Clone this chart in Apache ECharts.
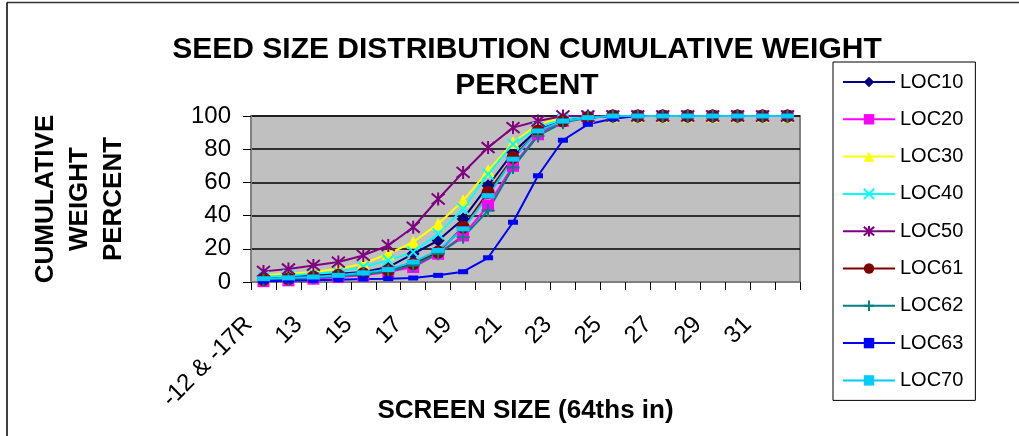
<!DOCTYPE html>
<html>
<head>
<meta charset="utf-8">
<script src="https://cdn.jsdelivr.net/npm/echarts@6/dist/echarts.min.js"></script>
<style>
  html, body { margin: 0; padding: 0; background: #fff; }
  #chart { width: 1019px; height: 436px; }
</style>
</head>
<body>
<div id="chart"></div>
<script>
// screen sizes, 64ths of an inch
var sizes = ['-12 & -17R', '12', '13', '14', '15', '16', '17', '18', '19', '20', '21',
    '22', '23', '24', '25', '26', '27', '28', '29', '30', '31', '32'];

var loc10 = [2, 3, 4, 5, 6, 9, 17, 25, 38, 58, 78, 92, 98, 100, 100, 100, 100, 100, 100, 100, 100, 100];
var loc20 = [0.5, 1, 2, 3, 4, 6, 9, 17, 28, 46, 70, 89, 97, 99, 100, 100, 100, 100, 100, 100, 100, 100];
var loc30 = [4, 5, 6, 8, 11, 17, 24, 35, 49, 67, 84, 95, 99, 100, 100, 100, 100, 100, 100, 100, 100, 100];
var loc40 = [3, 4, 5, 6, 9, 13, 18, 29, 44, 65, 83, 93, 98, 100, 100, 100, 100, 100, 100, 100, 100, 100];
var loc50 = [6.4, 7.8, 10, 12, 16, 22, 33, 50, 66, 81, 93, 97, 100, 100, 100, 100, 100, 100, 100, 100, 100, 100];
var loc61 = [1.5, 2, 3, 4, 5, 7, 11, 18, 33, 54, 75, 91, 97, 99, 100, 100, 100, 100, 100, 100, 100, 100];
var loc62 = [1, 1.5, 2.5, 3.5, 4.5, 6.5, 10, 17, 27, 43, 69, 88, 96, 99, 100, 100, 100, 100, 100, 100, 100, 100];
var loc63 = [0.5, 0.8, 1, 1.4, 1.8, 2, 2.4, 4, 6.2, 14.6, 36, 64, 85.4, 95, 98.4, 100, 100, 100, 100, 100, 100, 100];
var loc70 = [2, 2.5, 3, 4, 5.5, 7.5, 12, 19, 32, 52, 74, 91, 97, 99, 100, 100, 100, 100, 100, 100, 100, 100];

var yTicks = [0, 20, 40, 60, 80, 100];

var X_PATH = 'path://M0,0L10,10M0,10L10,0';
var STAR_PATH = 'path://M0,0L10,10M0,10L10,0M5,-1L5,11';
var PLUS_PATH = 'path://M5,0L5,10M0,5L10,5';

function makeSeries(name, data, color, symbol, size, stroke) {
    var s = {
        name: name,
        type: 'line',
        data: data,
        symbol: symbol,
        symbolSize: size,
        showAllSymbol: true,
        color: color,
        lineStyle: { color: color, width: 2 },
        itemStyle: { color: color },
        emphasis: { disabled: true },
        animation: false
    };
    if (stroke) {
        s.itemStyle = { color: color, borderColor: color, borderWidth: 2 };
    }
    return s;
}

var chart = echarts.init(document.getElementById('chart'));
var font = 'Liberation Sans, Arial, sans-serif';

var option = {
    backgroundColor: '#ffffff',
    textStyle: { fontFamily: font },
    title: {
        text: 'SEED SIZE DISTRIBUTION CUMULATIVE WEIGHT\nPERCENT',
        left: 522,
        textAlign: 'center',
        top: 27,
        textStyle: { fontSize: 30, fontWeight: 'bold', color: '#000', lineHeight: 36, fontFamily: font }
    },
    legend: {
        orient: 'vertical',
        left: 833,
        top: 62,
        padding: [10, 12, 10, 9],
        itemWidth: 52,
        itemHeight: 13,
        itemGap: 17.3,
        borderColor: '#000',
        borderWidth: 1,
        backgroundColor: '#fff',
        textStyle: { fontSize: 20, color: '#000', lineHeight: 20, fontFamily: font },
        data: ['LOC10', 'LOC20', 'LOC30', 'LOC40', 'LOC50', 'LOC61', 'LOC62', 'LOC63', 'LOC70']
    },
    grid: {
        left: 251,
        right: 219,
        top: 116,
        bottom: 154,
        outerBoundsMode: 'none',
        containLabel: false,
        show: true,
        backgroundColor: '#c0c0c0',
        borderColor: '#808080',
        borderWidth: 2
    },
    xAxis: {
        type: 'category',
        data: sizes,
        boundaryGap: true,
        name: 'SCREEN SIZE (64ths in)',
        nameLocation: 'middle',
        nameGap: 116,
        nameMoveOverlap: false,
        nameTextStyle: { fontSize: 26, fontWeight: 'bold', color: '#000', fontFamily: font },
        axisLine: { lineStyle: { color: '#808080', width: 2 } },
        axisTick: { show: true, interval: 0, length: 8, lineStyle: { color: '#000' } },
        axisLabel: { interval: 1, rotate: 45, fontSize: 24, color: '#000', margin: 24, padding: [0, 21, 0, 0], fontFamily: font },
        splitLine: { show: false }
    },
    yAxis: {
        type: 'value',
        min: yTicks[0],
        max: yTicks[yTicks.length - 1],
        interval: yTicks[1] - yTicks[0],
        name: 'CUMULATIVE\nWEIGHT\nPERCENT',
        nameLocation: 'middle',
        nameRotate: 90,
        nameGap: 120,
        nameTextStyle: { fontSize: 26, fontWeight: 'bold', color: '#000', lineHeight: 34, fontFamily: font },
        axisLine: { show: true, lineStyle: { color: '#808080', width: 2 } },
        axisTick: { show: true, length: 8, lineStyle: { color: '#000' } },
        axisLabel: { fontSize: 24, color: '#000', margin: 20, fontFamily: font },
        splitLine: { show: true, lineStyle: { color: '#000', width: 1.5 } }
    },
    graphic: [
        { type: 'line', shape: { x1: 7, y1: 2.5, x2: 1019, y2: 2.5 }, style: { stroke: '#333', lineWidth: 1.5 }, silent: true },
        { type: 'line', shape: { x1: 7, y1: 2.5, x2: 7, y2: 436 }, style: { stroke: '#000', lineWidth: 1.5 }, silent: true }
    ],
    series: [
        makeSeries('LOC10', loc10, '#000080', 'diamond', 13),
        makeSeries('LOC20', loc20, '#ff00ff', 'rect', 12),
        makeSeries('LOC30', loc30, '#ffff00', 'triangle', 13),
        makeSeries('LOC40', loc40, '#00ffff', X_PATH, 11, true),
        makeSeries('LOC50', loc50, '#800080', STAR_PATH, 13, true),
        makeSeries('LOC61', loc61, '#800000', 'circle', 13),
        makeSeries('LOC62', loc62, '#008080', PLUS_PATH, 13, true),
        makeSeries('LOC63', loc63, '#0000ff', 'rect', [10, 5]),
        makeSeries('LOC70', loc70, '#00ccff', 'rect', [13, 5])
    ]
};

chart.setOption(option);
</script>
</body>
</html>
